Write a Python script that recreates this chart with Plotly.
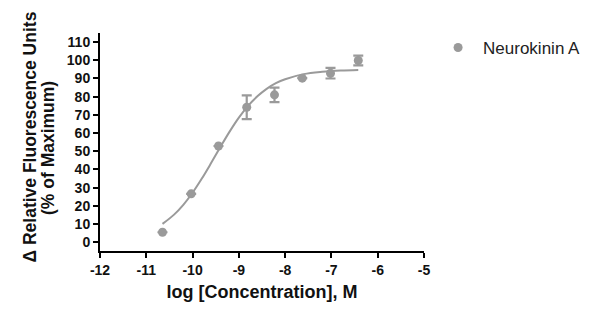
import plotly.graph_objects as go

# Data
log_conc = [-10.65, -10.03, -9.44, -8.83, -8.23, -7.63, -7.02, -6.42]
response = [5.5, 26.6, 52.9, 74.2, 81.0, 90.2, 92.9, 99.9]
sem = [0.0, 0.0, 0.0, 6.5, 4.0, 0.0, 2.9, 2.7]

# Fitted curve points
curve_x = [-10.65, -10.4, -10.2, -10.0, -9.8, -9.6, -9.4, -9.2, -9.0, -8.8,
           -8.6, -8.4, -8.2, -8.0, -7.6, -7.2, -6.8, -6.42]
curve_y = [10.1, 15.2, 20.6, 27.2, 35.0, 43.5, 52.3, 60.8, 68.5, 75.0,
           80.2, 84.3, 87.4, 89.6, 92.4, 93.7, 94.4, 94.7]

x_ticks = [-12, -11, -10, -9, -8, -7, -6, -5]
y_ticks = list(range(0, 111, 10))

y_title_lines = ["Δ Relative Fluorescence Units", "(% of Maximum)"]
x_title = "log [Concentration], M"

gray = "#9a9a9a"
font_family = "Liberation Sans, Arial, sans-serif"
ink = "#111111"

fig = go.Figure()
fig.add_trace(go.Scatter(
    x=curve_x, y=curve_y, mode="lines", line=dict(color=gray, width=2, shape="spline"),
    showlegend=False, hoverinfo="skip"))
fig.add_trace(go.Scatter(
    x=log_conc, y=response, mode="markers", name="Neurokinin A",
    marker=dict(color=gray, size=9),
    error_y=dict(type="data", array=sem, visible=True, color=gray, thickness=2.2, width=5)))

fig.update_layout(
    width=600, height=322,
    margin=dict(l=100, r=176, t=33, b=71),
    paper_bgcolor="white", plot_bgcolor="white",
    font=dict(family=font_family, color=ink),
    legend=dict(x=1.028, y=1.014, xref="paper", yref="paper", xanchor="left", yanchor="top",
                font=dict(size=17, color="#222222", family=font_family),
                itemwidth=40, bgcolor="rgba(0,0,0,0)"),
    xaxis=dict(
        range=[-12, -5], tickvals=x_ticks, ticktext=[str(v) for v in x_ticks],
        showline=True, linecolor="black", linewidth=2, ticks="outside", ticklen=5,
        tickwidth=2, tickcolor="black", showgrid=False, zeroline=False,
        tickfont=dict(size=14, family=font_family, weight="bold", color=ink),
        title=dict(text=x_title, standoff=9,
                   font=dict(size=18, family=font_family, weight="bold", color=ink))),
    yaxis=dict(
        range=[-4.8, 115], tickvals=y_ticks, ticktext=[str(v) for v in y_ticks],
        showline=True, linecolor="black", linewidth=2, ticks="outside", ticklen=5,
        tickwidth=2, tickcolor="black", showgrid=False, zeroline=False,
        tickfont=dict(size=14, family=font_family, weight="bold", color=ink)),
)

# Two-line rotated y-axis title
for text, xpx, ypx in zip(y_title_lines, [29, 47.5], [137.5, 148.5]):
    fig.add_annotation(
        text=text, textangle=-90, showarrow=False,
        xref="paper", yref="paper", x=(xpx - 100) / 324, y=(251 - ypx) / 218,
        xanchor="center", yanchor="middle",
        font=dict(size=17.5, family=font_family, weight="bold", color=ink))

fig.write_html("out.html")
